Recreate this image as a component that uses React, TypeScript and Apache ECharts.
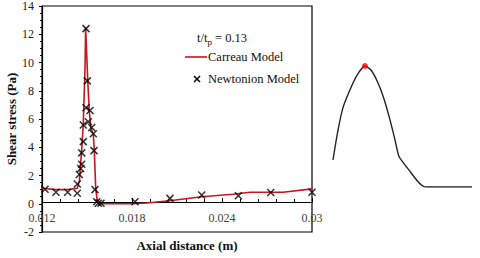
import React, { useEffect, useRef } from "react";
import * as echarts from "echarts";

// Carreau model (red line)
const carreauX = [0.012, 0.01293, 0.01371, 0.014353, 0.01449, 0.01465, 0.01475, 0.01487, 0.01491, 0.01505, 0.01515, 0.01525, 0.01542, 0.01549, 0.01558, 0.01569, 0.01582, 0.018, 0.019, 0.0205, 0.02265, 0.02473, 0.02587, 0.02807, 0.03];
const carreauY = [1.1, 1.0, 1.0, 1.1, 1.6, 3.9, 5.6, 9.7, 12.5, 8.7, 6.6, 5.4, 4.9, 3.7, 1.1, 0.14, 0.0, 0.0, 0.05, 0.21, 0.5, 0.67, 0.81, 0.81, 1.05];

// Newtonion model (x markers)
const newtonX = [0.0122, 0.01293, 0.01371, 0.01435, 0.014353, 0.014487, 0.01458, 0.014647, 0.014647, 0.014753, 0.014753, 0.014933, 0.01502, 0.014933, 0.0152, 0.015087, 0.015313, 0.01542, 0.015467, 0.015533, 0.015647, 0.015753, 0.015933, 0.0182, 0.02053, 0.02265, 0.02509, 0.02725, 0.03];
const newtonY = [1.02, 0.81, 0.81, 0.74, 1.4, 2.07, 2.5, 2.8, 3.6, 4.4, 5.57, 12.4, 8.7, 6.8, 6.6, 5.8, 5.4, 4.95, 3.76, 1.0, 0.14, 0.03, 0.03, 0.14, 0.38, 0.62, 0.57, 0.79, 0.81];

// Right-hand sketch curve (arbitrary units 0..100)
const sketchX = [0, 3.6, 7.4, 14.4, 18.7, 23, 27.3, 32.4, 36.7, 41, 44.6, 47.5, 55.4, 61.2, 65.5, 69.8, 100];
const sketchY = [22.5, 47, 66.4, 86, 95, 100, 96.7, 86, 72.8, 55.5, 39, 25.2, 12.9, 4.4, 0.3, 0, 0];
const sketchPeak = [[23, 100]];

const yTicks = { min: -2, max: 14, interval: 2 };
const xTicks = { min: 0.012, max: 0.03, interval: 0.006 };

export default function App() {
  const ref = useRef<HTMLDivElement>(null);
  useEffect(() => {
    if (!ref.current) return;
    const chart = echarts.init(ref.current, null, { renderer: "svg" });
    const serif = "'Liberation Serif', 'Times New Roman', serif";
    chart.setOption({
      animation: false,
      backgroundColor: "#fff",
      grid: [
        { left: 42, right: 168, top: 6, bottom: 26, containLabel: false, outerBoundsMode: "none", show: true, borderColor: "#000", borderWidth: 1.2, backgroundColor: "transparent" },
        { left: 333, width: 139, top: 66, height: 121, containLabel: false, outerBoundsMode: "none" },
      ],
      xAxis: [
        {
          type: "value",
          gridIndex: 0,
          position: "bottom",
          offset: -30,
          min: xTicks.min,
          max: xTicks.max,
          interval: xTicks.interval,
          splitLine: { show: false },
          axisLine: { show: true, onZero: false, lineStyle: { color: "#000", width: 1.2 } },
          axisTick: { show: true, inside: true, length: 4, lineStyle: { color: "#000" } },
          minorTick: { show: true, splitNumber: 5, length: 3, lineStyle: { color: "#000" } },
          axisLabel: { color: "#404040", fontSize: 12, fontFamily: serif, margin: 10 },
          name: "Axial distance (m)",
          nameLocation: "middle",
          nameGap: 37,
          nameMoveOverlap: false,
          nameTextStyle: { fontFamily: serif, fontWeight: "bold", fontSize: 13, color: "#111", padding: [0, 0, 0, 20] },
        },
        { type: "value", gridIndex: 1, min: 0, max: 100, show: false },
      ],
      yAxis: [
        {
          type: "value",
          gridIndex: 0,
          min: yTicks.min,
          max: yTicks.max,
          interval: yTicks.interval,
          splitLine: { show: false },
          axisLine: { show: true, lineStyle: { color: "#000", width: 1.2 } },
          axisTick: { show: true, length: 3, lineStyle: { color: "#000" } },
          minorTick: { show: true, splitNumber: 4, length: 2, lineStyle: { color: "#000" } },
          axisLabel: { color: "#222", fontSize: 12, fontFamily: serif, margin: 8 },
          name: "Shear stress (Pa)",
          nameLocation: "middle",
          nameRotate: 90,
          nameGap: 24,
          nameMoveOverlap: false,
          nameTextStyle: { fontFamily: serif, fontWeight: "bold", fontSize: 13, color: "#111" },
        },
        { type: "value", gridIndex: 1, min: 0, max: 100, show: false },
      ],
      series: [
        {
          type: "line",
          name: "Carreau Model",
          xAxisIndex: 0,
          yAxisIndex: 0,
          data: carreauX.map((x, i) => [x, carreauY[i]]),
          showSymbol: false,
          lineStyle: { color: "#c8161d", width: 1.6 },
          z: 2,
        },
        {
          type: "scatter",
          name: "Newtonion Model",
          xAxisIndex: 0,
          yAxisIndex: 0,
          data: newtonX.map((x, i) => [x, newtonY[i]]),
          symbol: "path://M0,0L10,10M10,0L0,10",
          symbolSize: 7,
          itemStyle: { color: "transparent", borderColor: "#000", borderWidth: 1.5 },
          z: 3,
        },
        {
          type: "line",
          xAxisIndex: 1,
          yAxisIndex: 1,
          data: sketchX.map((x, i) => [x, sketchY[i]]),
          smooth: 0.2,
          showSymbol: false,
          lineStyle: { color: "#222", width: 1.4 },
        },
        {
          type: "scatter",
          xAxisIndex: 1,
          yAxisIndex: 1,
          data: sketchPeak,
          symbolSize: 6,
          itemStyle: { color: "#ff0000" },
          z: 4,
        },
      ],
      graphic: [
        {
          type: "text",
          left: 197,
          top: 31,
          style: {
            text: "t/t{sub|p} = 0.13",
            font: `12.5px ${serif}`,
            fill: "#111",
            rich: { sub: { fontSize: 9, fontFamily: serif, fill: "#111", padding: [8, 0, 0, 0] } },
          },
        },
        { type: "line", shape: { x1: 185, y1: 57, x2: 207, y2: 57 }, style: { stroke: "#c8161d", lineWidth: 1.6 } },
        { type: "text", left: 208, top: 50, style: { text: "Carreau Model", font: `12.5px ${serif}`, fill: "#111" } },
        { type: "line", shape: { x1: 194, y1: 76, x2: 200, y2: 82 }, style: { stroke: "#000", lineWidth: 1.5 } },
        { type: "line", shape: { x1: 200, y1: 76, x2: 194, y2: 82 }, style: { stroke: "#000", lineWidth: 1.5 } },
        { type: "text", left: 208, top: 72, style: { text: "Newtonion Model", font: `12.5px ${serif}`, fill: "#111" } },
      ],
    });
    return () => chart.dispose();
  }, []);
  return <div ref={ref} style={{ position: "fixed", left: 0, top: 0, width: 480, height: 258 }} />;
}
